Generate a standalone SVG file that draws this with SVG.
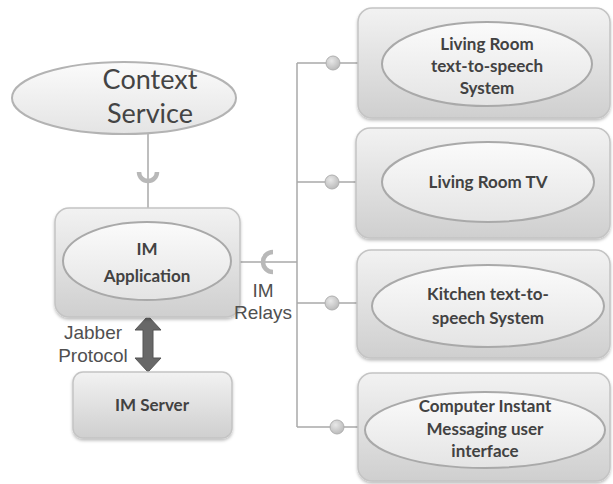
<svg xmlns="http://www.w3.org/2000/svg" width="613" height="484" viewBox="0 0 613 484">
<defs>
<linearGradient id="boxG" x1="0" y1="0" x2="0" y2="1">
<stop offset="0" stop-color="#f2f2f2"/><stop offset="1" stop-color="#cfcfcf"/>
</linearGradient>
<linearGradient id="ellG" x1="0" y1="0" x2="0" y2="1">
<stop offset="0" stop-color="#fbfbfb"/><stop offset="1" stop-color="#e4e4e4"/>
</linearGradient>
<radialGradient id="dotG" cx="0.4" cy="0.35" r="0.7">
<stop offset="0" stop-color="#e8e8e8"/><stop offset="1" stop-color="#b8b8b8"/>
</radialGradient>
<filter id="sh" x="-10%" y="-10%" width="120%" height="130%">
<feDropShadow dx="0" dy="2" stdDeviation="1.5" flood-color="#000" flood-opacity="0.25"/>
</filter>
</defs>
<style>
.box{fill:url(#boxG);stroke:#c4c4c4;stroke-width:1.5;filter:url(#sh)}
.ell{fill:url(#ellG);stroke:#a9a9a9;stroke-width:2}
.t{font-family:Lato,"Liberation Sans",sans-serif;font-weight:bold;font-size:17px;fill:#424242;text-anchor:middle}
.lab{font-family:"Liberation Sans",Arial,sans-serif;font-size:19px;fill:#505050;text-anchor:middle}
.ln{stroke:#a8a8a8;stroke-width:1.5;fill:none}
.dot{fill:url(#dotG);stroke:#b0b0b0;stroke-width:1}
.sock{fill:none;stroke:#b8b8b8;stroke-width:4.5}
</style>
<g id="connectors">
<line class="ln" x1="148" y1="134" x2="148" y2="208"/>
<path class="sock" d="M139 172 A9 9 0 0 0 157 172"/>
<line class="ln" x1="240" y1="262" x2="297" y2="262"/>
<path class="sock" d="M273 252 A10 10 0 0 0 273 272"/>
<line class="ln" x1="297" y1="63" x2="297" y2="427"/>
<line class="ln" x1="297" y1="63" x2="358" y2="63"/>
<line class="ln" x1="297" y1="182" x2="356" y2="182"/>
<line class="ln" x1="297" y1="303" x2="358" y2="303"/>
<line class="ln" x1="297" y1="427" x2="360" y2="427"/>
<circle class="dot" cx="333" cy="63" r="7"/>
<circle class="dot" cx="332" cy="182" r="7"/>
<circle class="dot" cx="332" cy="303" r="7"/>
<circle class="dot" cx="337" cy="427" r="7"/>
<path d="M148 316 L161 330 L153 330 L153 358 L161 358 L148 372 L135 358 L143 358 L143 330 L135 330 Z" fill="#686868" stroke="#555" stroke-width="1"/>
</g>
<g id="context-service">
<ellipse cx="124" cy="98" rx="112" ry="36" fill="url(#ellG)" stroke="#b3b3b3" stroke-width="2"/>
<text x="150" y="89" font-family="Lato,'Liberation Sans',sans-serif" font-size="27" fill="#444" text-anchor="middle">Context</text>
<text x="150" y="123" font-family="Lato,'Liberation Sans',sans-serif" font-size="27" fill="#444" text-anchor="middle">Service</text>
</g>
<g id="im-application">
<rect class="box" x="55" y="208" width="185" height="109" rx="14"/>
<ellipse class="ell" cx="147" cy="261" rx="84" ry="39"/>
<text class="t" x="147" y="255">IM</text>
<text class="t" x="147" y="282">Application</text>
</g>
<g id="im-relays-label">
<text class="lab" x="263" y="297">IM</text>
<text class="lab" x="263" y="319">Relays</text>
</g>
<g id="jabber-label">
<text class="lab" x="93" y="339">Jabber</text>
<text class="lab" x="93" y="362">Protocol</text>
</g>
<g id="im-server">
<rect class="box" x="73" y="372" width="159" height="66" rx="10"/>
<text class="t" x="152" y="411">IM Server</text>
</g>
<g id="living-room-tts">
<rect class="box" x="358" y="8" width="252" height="110" rx="14"/>
<ellipse class="ell" cx="487" cy="64" rx="105" ry="42"/>
<text class="t" x="487" y="50">Living Room</text>
<text class="t" x="487" y="72">text-to-speech</text>
<text class="t" x="487" y="94">System</text>
</g>
<g id="living-room-tv">
<rect class="box" x="356" y="128" width="254" height="110" rx="14"/>
<ellipse class="ell" cx="488" cy="182" rx="106" ry="40"/>
<text class="t" x="488" y="188">Living Room TV</text>
</g>
<g id="kitchen-tts">
<rect class="box" x="357" y="250" width="253" height="108" rx="14"/>
<ellipse class="ell" cx="488" cy="306" rx="116" ry="41"/>
<text class="t" x="488" y="300">Kitchen text-to-</text>
<text class="t" x="488" y="324">speech System</text>
</g>
<g id="computer-im-ui">
<rect class="box" x="358" y="373" width="252" height="108" rx="14"/>
<ellipse class="ell" cx="485" cy="430" rx="120" ry="38"/>
<text class="t" x="485" y="412">Computer Instant</text>
<text class="t" x="485" y="435">Messaging user</text>
<text class="t" x="485" y="457">interface</text>
</g>
</svg>
